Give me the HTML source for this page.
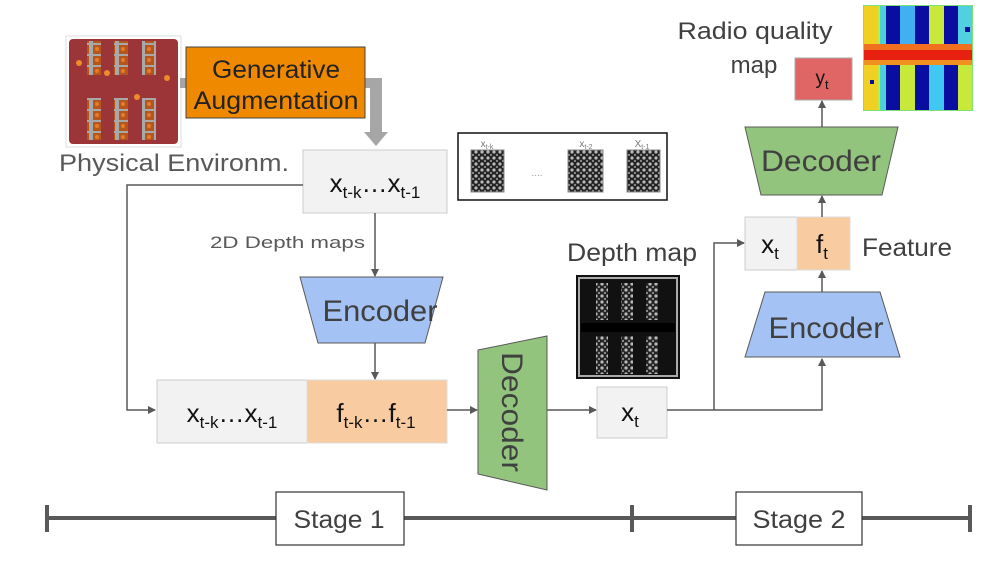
<!DOCTYPE html>
<html><head><meta charset="utf-8"><style>
html,body{margin:0;padding:0;background:#fff;}
svg{display:block;font-family:"Liberation Sans",Arial,sans-serif;}
</style></head><body>
<svg width="996" height="561" viewBox="0 0 996 561" xmlns="http://www.w3.org/2000/svg">
<defs>
<marker id="ah" markerWidth="8" markerHeight="8" refX="7" refY="4" orient="auto" markerUnits="userSpaceOnUse">
<path d="M0,0 L8,4 L0,8 z" fill="#595959"/></marker>
<pattern id="rack" width="13" height="11" patternUnits="userSpaceOnUse">
<rect width="13" height="11" fill="#a8a8a8"/><rect x="2" y="1" width="9" height="9" fill="#b5561e"/><circle cx="6" cy="5" r="2" fill="#e87a2a"/></pattern>
<pattern id="dots" width="6" height="6" patternUnits="userSpaceOnUse">
<rect width="6" height="6" fill="#222"/><circle cx="2" cy="2" r="1.6" fill="#bbb"/><circle cx="5" cy="5" r="1.2" fill="#888"/></pattern>
</defs>

<!-- Physical environment -->
<rect x="66" y="36" width="115" height="111" fill="#fff" stroke="#ddd"/>
<rect x="69" y="39" width="109" height="105" rx="4" fill="#9c3537"/>
<g>
<rect x="87" y="41" width="14" height="34" fill="url(#rack)"/>
<rect x="114" y="41" width="14" height="34" fill="url(#rack)"/>
<rect x="142" y="41" width="14" height="34" fill="url(#rack)"/>
<rect x="87" y="98" width="14" height="42" fill="url(#rack)"/>
<rect x="114" y="98" width="14" height="42" fill="url(#rack)"/>
<rect x="142" y="98" width="14" height="42" fill="url(#rack)"/>
<circle cx="79" cy="63" r="3" fill="#f08a2a"/><circle cx="107" cy="73" r="3" fill="#f08a2a"/>
<circle cx="167" cy="78" r="3" fill="#f08a2a"/><circle cx="137" cy="97" r="3" fill="#f08a2a"/>
</g>
<text x="59" y="171" font-size="24" fill="#595959" textLength="230" lengthAdjust="spacingAndGlyphs">Physical Environm.</text>

<!-- Gray thick arrow -->
<rect x="180" y="78" width="200" height="10" fill="#a6a6a6"/>
<rect x="370" y="78" width="12" height="56" fill="#a6a6a6"/>
<path d="M364,132 L388,132 L376,146 z" fill="#a6a6a6"/>

<!-- Generative Augmentation -->
<rect x="186" y="47" width="179" height="71" fill="#ef8a00" stroke="#444" stroke-width="1"/>
<text x="276" y="78" font-size="25" text-anchor="middle" fill="#222" textLength="128" lengthAdjust="spacingAndGlyphs">Generative</text>
<text x="276" y="109" font-size="25" text-anchor="middle" fill="#222" textLength="165" lengthAdjust="spacingAndGlyphs">Augmentation</text>

<!-- x_{t-k}...x_{t-1} top box -->
<rect x="303" y="150" width="144" height="63" fill="#f2f2f2" stroke="#ccc"/>
<text x="375" y="192" font-size="26" text-anchor="middle" fill="#111">x<tspan font-size="17" dy="6">t-k</tspan><tspan dy="-6">…x</tspan><tspan font-size="17" dy="6">t-1</tspan></text>

<!-- sequence image box -->
<rect x="458" y="133" width="209" height="67" fill="#fff" stroke="#111" stroke-width="1.5"/>
<text x="487" y="147" font-size="10" fill="#777" text-anchor="middle">x<tspan font-size="7" dy="2">t-k</tspan></text>
<text x="586" y="147" font-size="10" fill="#777" text-anchor="middle">x<tspan font-size="7" dy="2">t-2</tspan></text>
<text x="642" y="147" font-size="10" fill="#777" text-anchor="middle">X<tspan font-size="7" dy="2">t-1</tspan></text>
<rect x="471" y="150" width="33" height="42" fill="url(#dots)" stroke="#888"/>
<rect x="568" y="150" width="35" height="42" fill="url(#dots)" stroke="#888"/>
<rect x="627" y="150" width="33" height="42" fill="url(#dots)" stroke="#888"/>
<text x="537" y="176" font-size="10" fill="#999" text-anchor="middle">....</text>

<!-- left feedback line -->
<path d="M303,185 L127,185 L127,410 L155,410" fill="none" stroke="#595959" stroke-width="1.5" marker-end="url(#ah)"/>

<text x="210" y="248" font-size="17" fill="#595959" textLength="155" lengthAdjust="spacingAndGlyphs">2D Depth maps</text>
<line x1="375" y1="213" x2="375" y2="276" stroke="#595959" stroke-width="1.5" marker-end="url(#ah)"/>

<!-- Encoder 1 -->
<path d="M300,277 L443,277 L425,343 L318,343 z" fill="#a4c2f4" stroke="#595959" stroke-width="1"/>
<text x="380" y="321" font-size="30" text-anchor="middle" fill="#404040" textLength="115" lengthAdjust="spacingAndGlyphs">Encoder</text>
<line x1="375" y1="343" x2="375" y2="379" stroke="#595959" stroke-width="1.5" marker-end="url(#ah)"/>

<!-- bottom combined box -->
<rect x="157" y="380" width="150" height="63" fill="#f2f2f2" stroke="#ccc"/>
<rect x="307" y="380" width="140" height="63" fill="#f8cba0" stroke="#ddd"/>
<text x="232" y="422" font-size="26" text-anchor="middle" fill="#111">x<tspan font-size="17" dy="6">t-k</tspan><tspan dy="-6">…x</tspan><tspan font-size="17" dy="6">t-1</tspan></text>
<text x="376" y="422" font-size="26" text-anchor="middle" fill="#111">f<tspan font-size="17" dy="6">t-k</tspan><tspan dy="-6">…f</tspan><tspan font-size="17" dy="6">t-1</tspan></text>
<line x1="447" y1="410" x2="477" y2="410" stroke="#595959" stroke-width="1.5" marker-end="url(#ah)"/>

<!-- Decoder vertical -->
<path d="M478,350 L547,336 L547,490 L478,474 z" fill="#93c47d" stroke="#595959" stroke-width="1"/>
<text transform="translate(502,412) rotate(90)" font-size="30" text-anchor="middle" fill="#404040" textLength="120" lengthAdjust="spacingAndGlyphs">Decoder</text>
<line x1="547" y1="410" x2="596" y2="410" stroke="#595959" stroke-width="1.5" marker-end="url(#ah)"/>

<!-- depth map -->
<text x="632" y="261" font-size="25" text-anchor="middle" fill="#404040" textLength="130" lengthAdjust="spacingAndGlyphs">Depth map</text>
<rect x="576" y="275" width="104" height="104" fill="#111"/>
<rect x="579" y="278" width="98" height="98" fill="none" stroke="#aaa" stroke-width="2"/>
<rect x="581" y="323" width="94" height="9" fill="#000"/>
<rect x="596" y="283" width="12" height="37" fill="url(#dots)"/>
<rect x="621" y="283" width="12" height="37" fill="url(#dots)"/>
<rect x="646" y="283" width="12" height="37" fill="url(#dots)"/>
<rect x="596" y="336" width="12" height="38" fill="url(#dots)"/>
<rect x="621" y="336" width="12" height="38" fill="url(#dots)"/>
<rect x="646" y="336" width="12" height="38" fill="url(#dots)"/>

<!-- x_t box -->
<rect x="597" y="387" width="70" height="51" fill="#f2f2f2" stroke="#ccc"/>
<text x="630" y="421" font-size="26" text-anchor="middle" fill="#111">x<tspan font-size="17" dy="6">t</tspan></text>

<path d="M667,410 L822,410 L822,359" fill="none" stroke="#595959" stroke-width="1.5" marker-end="url(#ah)"/>
<path d="M714,410 L714,243 L744,243" fill="none" stroke="#595959" stroke-width="1.5" marker-end="url(#ah)"/>

<!-- Encoder 2 -->
<path d="M765,292 L880,292 L900,357 L745,357 z" fill="#a4c2f4" stroke="#595959" stroke-width="1"/>
<text x="826" y="338" font-size="30" text-anchor="middle" fill="#404040" textLength="115" lengthAdjust="spacingAndGlyphs">Encoder</text>
<line x1="822" y1="292" x2="822" y2="271" stroke="#595959" stroke-width="1.5" marker-end="url(#ah)"/>

<!-- x_t f_t -->
<rect x="745" y="217" width="52" height="53" fill="#f2f2f2" stroke="#ccc"/>
<rect x="797" y="217" width="53" height="53" fill="#f8cba0" stroke="#ddd"/>
<text x="770" y="253" font-size="26" text-anchor="middle" fill="#111">x<tspan font-size="17" dy="6">t</tspan></text>
<text x="822" y="253" font-size="26" text-anchor="middle" fill="#111">f<tspan font-size="17" dy="6">t</tspan></text>
<text x="862" y="256" font-size="25" fill="#404040" textLength="90" lengthAdjust="spacingAndGlyphs">Feature</text>
<line x1="822" y1="217" x2="822" y2="196" stroke="#595959" stroke-width="1.5" marker-end="url(#ah)"/>

<!-- Decoder 2 -->
<path d="M745,127 L898,127 L882,195 L761,195 z" fill="#93c47d" stroke="#595959" stroke-width="1"/>
<text x="821" y="171" font-size="30" text-anchor="middle" fill="#404040" textLength="120" lengthAdjust="spacingAndGlyphs">Decoder</text>
<line x1="822" y1="127" x2="822" y2="101" stroke="#595959" stroke-width="1.5" marker-end="url(#ah)"/>

<!-- y_t -->
<rect x="795" y="58" width="57" height="42" fill="#e06666" stroke="#aaa"/>
<text x="822" y="84" font-size="19" text-anchor="middle" fill="#111">y<tspan font-size="13" dy="5">t</tspan></text>
<text x="755" y="39" font-size="24" text-anchor="middle" fill="#404040" textLength="155" lengthAdjust="spacingAndGlyphs">Radio quality</text>
<text x="754" y="73" font-size="24" text-anchor="middle" fill="#404040">map</text>

<!-- heatmap -->
<rect x="863" y="5" width="110" height="106" fill="#7fe07a"/>
<rect x="864" y="6" width="108" height="104" fill="#c8e83a"/>
<rect x="864" y="6" width="14" height="104" fill="#f0d020"/>
<rect x="880" y="6" width="6" height="104" fill="#4ad0d8"/>
<rect x="886" y="6" width="14" height="40" fill="#0a0ea0"/>
<rect x="886" y="65" width="14" height="45" fill="#0a0ea0"/>
<rect x="915" y="6" width="14" height="40" fill="#0a0ea0"/>
<rect x="915" y="65" width="14" height="45" fill="#0a0ea0"/>
<rect x="944" y="6" width="14" height="40" fill="#0a0ea0"/>
<rect x="944" y="65" width="14" height="45" fill="#0a0ea0"/>
<rect x="900" y="6" width="15" height="40" fill="#40b0f0"/>
<rect x="929" y="65" width="15" height="45" fill="#40c8f0"/>
<rect x="958" y="6" width="14" height="40" fill="#50d0e0"/>
<rect x="864" y="44" width="108" height="6" fill="#f07020"/>
<rect x="864" y="50" width="108" height="10" fill="#e82010"/>
<rect x="864" y="60" width="108" height="5" fill="#f09020"/>
<rect x="965" y="27" width="5" height="5" fill="#0a0ea0"/>
<rect x="870" y="80" width="4" height="4" fill="#0a0ea0"/>

<!-- timeline -->
<line x1="47" y1="518" x2="970" y2="518" stroke="#595959" stroke-width="4"/>
<line x1="47" y1="505" x2="47" y2="532" stroke="#595959" stroke-width="4"/>
<line x1="632" y1="505" x2="632" y2="532" stroke="#595959" stroke-width="4"/>
<line x1="970" y1="505" x2="970" y2="532" stroke="#595959" stroke-width="4"/>
<rect x="276" y="492" width="128" height="53" fill="#fff" stroke="#333" stroke-width="1.2"/>
<text x="339" y="528" font-size="25" text-anchor="middle" fill="#404040" textLength="91" lengthAdjust="spacingAndGlyphs">Stage 1</text>
<rect x="736" y="492" width="126" height="53" fill="#fff" stroke="#333" stroke-width="1.2"/>
<text x="799" y="528" font-size="25" text-anchor="middle" fill="#404040" textLength="93" lengthAdjust="spacingAndGlyphs">Stage 2</text>
</svg>
</body></html>
